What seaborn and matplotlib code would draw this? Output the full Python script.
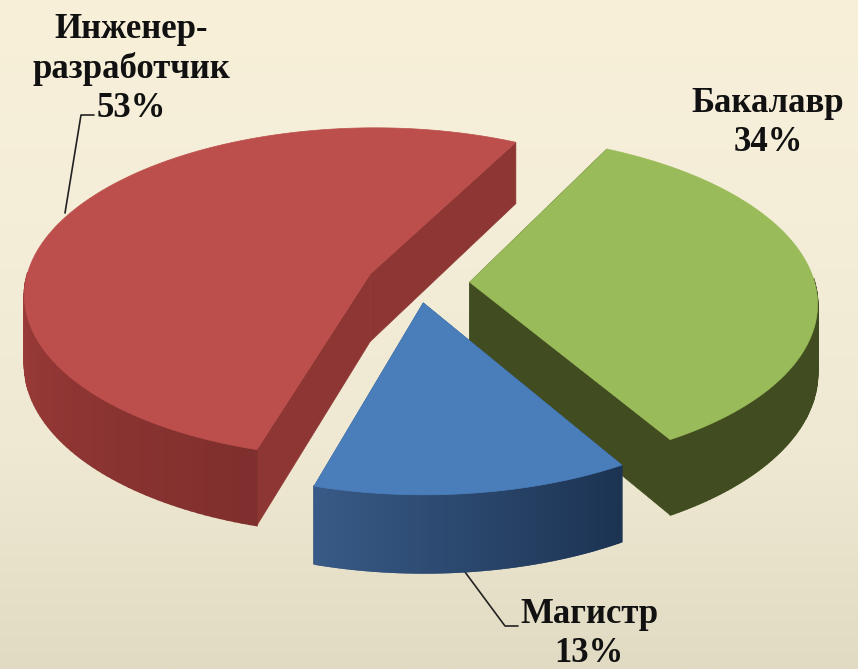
import numpy as np
import matplotlib
matplotlib.use('Agg')
import matplotlib.pyplot as plt
import seaborn as sns
from matplotlib.patches import Polygon

sns.set_theme(style='white')
plt.rcParams['font.family'] = ['Liberation Serif', 'DejaVu Serif']

# data
categories = ['Инженер-\nразработчик', 'Магистр', 'Бакалавр']
shares = [53, 13, 34]
explode = [0.15, 0.12, 0.15]

# colours: top, flat cut face, outer side from start to end of the arc
top_colors = ['#BC4F4C', '#4A7EBB', '#9ABB59']
cut_colors = ['#8E3633', '#2F4F7A', '#414D20']
side_colors = [['#A8403D', '#A8403D', '#7F2F2D'],
               ['#385A86', '#1C3352'],
               ['#414D20', '#414D20']]

# picture geometry
W, H = 858, 669
PX = 345.0
CX, CY = 418, 283
SQUASH = 0.478
PERSP = 0.115
DEPTH = 68 / PX


def project(x, y, z=0.0):
    # pie plane -> screen, the near edge comes out bigger
    s = 1 / (1 + PERSP * y)
    return x * s, SQUASH * y * s - z * s


def to_axes(px, py):
    return (px - CX) / PX, (CY - py) / PX


fig, ax = plt.subplots(figsize=(W / 100, H / 100), dpi=100)
fig.subplots_adjust(0, 0, 1, 1)

wedges, _ = ax.pie(shares, explode=explode, startangle=63, counterclock=True)
geom = [(w.center, w.theta1, w.theta2) for w in wedges]
for w in wedges:
    w.remove()

x0, y1 = to_axes(0, 0)
x1, y0 = to_axes(W, H)
ax.set_xlim(x0, x1)
ax.set_ylim(y0, y1)

# background gradient
bg = sns.blend_palette(['#F8F0D9', '#F4EDD8', '#EFE9D3', '#E2DBC3'], 256)
ax.imshow(np.array(bg)[:, None, :], extent=(x0, x1, y0, y1), aspect='auto', zorder=0)

# leader lines, they run under the slices
for pts in [[(65, 213), (81, 115), (94, 115)], [(465, 572), (505, 626), (518, 626)]]:
    a = [to_axes(*p) for p in pts]
    ax.plot([p[0] for p in a], [p[1] for p in a], color='#222222', lw=1.2, zorder=0.5)

# back to front: red, green, blue
for n, i in enumerate([0, 2, 1]):
    (cx, cy), t1, t2 = geom[i]
    th = np.radians(np.linspace(t1, t2, 160))
    ex = cx + np.cos(th)
    ey = cy + np.sin(th)
    z = 1 + n * 10

    # cut faces
    for k in [0, -1]:
        a = project(np.array([cx, ex[k], ex[k], cx]), np.array([cy, ey[k], ey[k], cy]),
                    np.array([0, 0, DEPTH, DEPTH]))
        ax.add_patch(Polygon(np.column_stack(a), color=cut_colors[i], lw=0.5, zorder=z))

    # outer side, strip by strip so it can carry the gradient, only the near half shows
    pal = sns.blend_palette(side_colors[i], len(th) - 1)
    for k in range(len(th) - 1):
        if np.sin(th[k]) > 0.02:
            continue
        xs = np.array([ex[k], ex[k + 1], ex[k + 1], ex[k]])
        ys = np.array([ey[k], ey[k + 1], ey[k + 1], ey[k]])
        a = project(xs, ys, np.array([0, 0, DEPTH, DEPTH]))
        ax.add_patch(Polygon(np.column_stack(a), color=pal[k], lw=1.2, zorder=z + 1))

    # top
    a = project(np.r_[cx, ex], np.r_[cy, ey])
    ax.add_patch(Polygon(np.column_stack(a), color=top_colors[i], lw=0.5, zorder=z + 2))

# labels
labels = [(categories[0] + '\n%d%%' % shares[0], 131, 69),
          (categories[2] + '\n%d%%' % shares[2], 768, 123),
          (categories[1] + '\n%d%%' % shares[1], 589, 634)]
for txt, px, py in labels:
    tx, ty = to_axes(px, py)
    ax.text(tx, ty, txt, ha='center', va='center', fontsize=25, fontweight='bold',
            color='#111111', linespacing=1.25, zorder=41)

ax.axis('off')
fig.savefig('out.png', dpi=100)
